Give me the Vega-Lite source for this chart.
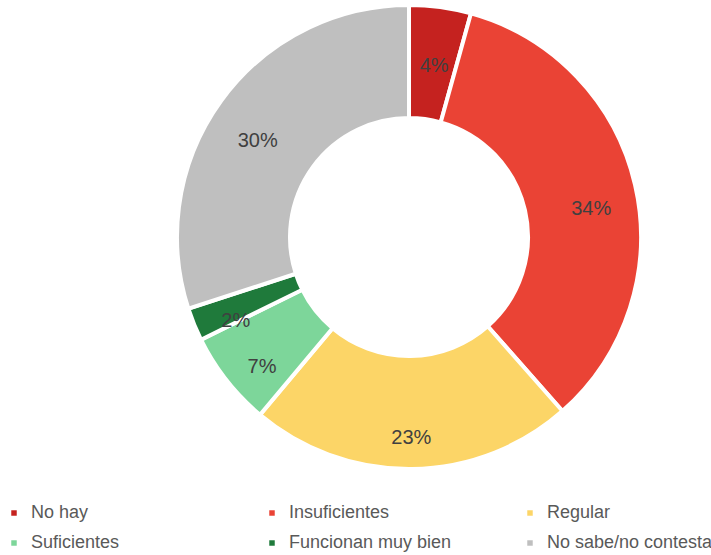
{
  "$schema": "https://vega.github.io/schema/vega-lite/v6.json",
  "width": 604,
  "height": 474,
  "autosize": "none",
  "padding": {"left": 107, "top": 0, "right": 0, "bottom": 81},
  "background": "white",
  "config": {"view": {"stroke": null}, "font": "Liberation Sans"},
  "data": {
    "values": [
      {"categoria": "No hay", "valor": 4.3, "orden": 1, "etiqueta": "4%"},
      {"categoria": "Insuficientes", "valor": 34.2, "orden": 2, "etiqueta": "34%"},
      {"categoria": "Regular", "valor": 22.6, "orden": 3, "etiqueta": "23%"},
      {"categoria": "Suficientes", "valor": 6.6, "orden": 4, "etiqueta": "7%"},
      {"categoria": "Funcionan muy bien", "valor": 2.3, "orden": 5, "etiqueta": "2%"},
      {"categoria": "No sabe/no contesta", "valor": 30.0, "orden": 6, "etiqueta": "30%"}
    ]
  },
  "encoding": {
    "theta": {"field": "valor", "type": "quantitative", "stack": true},
    "order": {"field": "orden", "type": "quantitative"},
    "color": {
      "field": "categoria",
      "type": "nominal",
      "scale": {
        "domain": ["No hay", "Insuficientes", "Regular", "Suficientes", "Funcionan muy bien", "No sabe/no contesta"],
        "range": ["#c5221f", "#ea4335", "#fcd567", "#7dd69a", "#1f7a3b", "#bfbfbf"]
      },
      "legend": {
        "title": null,
        "orient": "none",
        "legendX": -102,
        "legendY": 504,
        "direction": "horizontal",
        "columns": 3,
        "gridAlign": "all",
        "columnPadding": 66,
        "rowPadding": 12,
        "symbolType": "square",
        "symbolSize": 30,
        "symbolStrokeWidth": 0,
        "labelFontSize": 18,
        "labelColor": "#595959",
        "labelFont": "Liberation Sans",
        "labelOffset": 8,
        "labelLimit": 300
      }
    }
  },
  "layer": [
    {
      "mark": {"type": "arc", "innerRadius": 119, "outerRadius": 232, "stroke": "white", "strokeWidth": 4}
    },
    {
      "mark": {"type": "text", "radius": 187, "yOffset": 14, "baseline": "middle", "fontSize": 20, "font": "Liberation Sans"},
      "encoding": {
        "text": {"field": "etiqueta", "type": "nominal"},
        "color": {"value": "#404040"}
      }
    }
  ]
}
